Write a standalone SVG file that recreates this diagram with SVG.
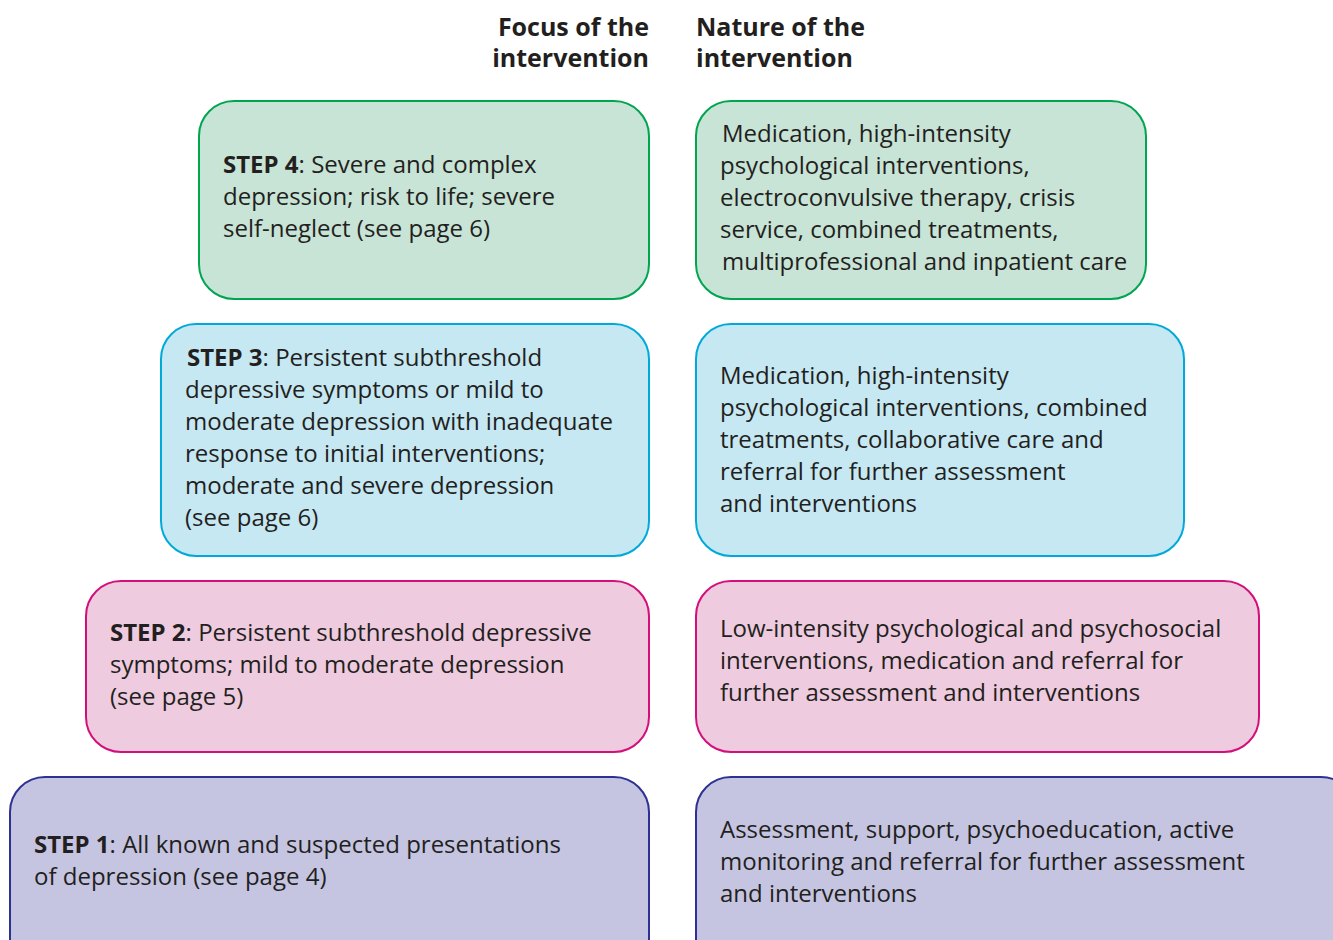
<svg xmlns="http://www.w3.org/2000/svg" width="1333" height="940" viewBox="0 0 1333 940">
  <style>
    text { font-family: "Open Sans", "Noto Sans", "Liberation Sans", sans-serif; font-size: 24px; fill: #231f20; }
    .hd { font-weight: bold; font-size: 25px; }
    .b { font-weight: bold; }
    .s4 { fill: #c8e4d6; stroke: #00a550; stroke-width: 2; }
    .s3 { fill: #c6e8f3; stroke: #00aad8; stroke-width: 2; }
    .s2 { fill: #eecbde; stroke: #d30f7c; stroke-width: 2; }
    .s1 { fill: #c5c5e2; stroke: #2e3192; stroke-width: 2; }
  </style>
  <rect width="1333" height="940" fill="#ffffff"/>

  <!-- column headings -->
  <g id="head-focus">
    <text class="hd" x="649" y="36" text-anchor="end">Focus of the</text>
    <text class="hd" x="649" y="67" text-anchor="end">intervention</text>
  </g>
  <g id="head-nature">
    <text class="hd" x="696" y="36">Nature of the</text>
    <text class="hd" x="696" y="67">intervention</text>
  </g>

  <!-- step 4 -->
  <g id="step4-focus">
    <rect class="s4" x="199" y="101" width="450" height="198" rx="35"/>
    <text x="223" y="173"><tspan class="b">STEP 4</tspan>: Severe and complex</text>
    <text x="223" y="205">depression; risk to life; severe</text>
    <text x="223" y="237">self-neglect (see page 6)</text>
  </g>
  <g id="step4-nature">
    <rect class="s4" x="696" y="101" width="450" height="198" rx="35"/>
    <text x="722" y="142">Medication, high-intensity</text>
    <text x="720" y="174">psychological interventions,</text>
    <text x="720" y="206">electroconvulsive therapy, crisis</text>
    <text x="720" y="238">service, combined treatments,</text>
    <text x="722" y="270">multiprofessional and inpatient care</text>
  </g>

  <!-- step 3 -->
  <g id="step3-focus">
    <rect class="s3" x="161" y="324" width="488" height="232" rx="35"/>
    <text x="187" y="366"><tspan class="b">STEP 3</tspan>: Persistent subthreshold</text>
    <text x="185" y="398">depressive symptoms or mild to</text>
    <text x="185" y="430">moderate depression with inadequate</text>
    <text x="185" y="462">response to initial interventions;</text>
    <text x="185" y="494">moderate and severe depression</text>
    <text x="185" y="526">(see page 6)</text>
  </g>
  <g id="step3-nature">
    <rect class="s3" x="696" y="324" width="488" height="232" rx="35"/>
    <text x="720" y="384">Medication, high-intensity</text>
    <text x="720" y="416">psychological interventions, combined</text>
    <text x="720" y="448">treatments, collaborative care and</text>
    <text x="720" y="480">referral for further assessment</text>
    <text x="720" y="512">and interventions</text>
  </g>

  <!-- step 2 -->
  <g id="step2-focus">
    <rect class="s2" x="86" y="581" width="563" height="171" rx="35"/>
    <text x="110" y="641"><tspan class="b">STEP 2</tspan>: Persistent subthreshold depressive</text>
    <text x="110" y="673">symptoms; mild to moderate depression</text>
    <text x="110" y="705">(see page 5)</text>
  </g>
  <g id="step2-nature">
    <rect class="s2" x="696" y="581" width="563" height="171" rx="35"/>
    <text x="720" y="637">Low-intensity psychological and psychosocial</text>
    <text x="720" y="669">interventions, medication and referral for</text>
    <text x="720" y="701">further assessment and interventions</text>
  </g>

  <!-- step 1 -->
  <g id="step1-focus">
    <rect class="s1" x="10" y="777" width="639" height="200" rx="35"/>
    <text x="34" y="853"><tspan class="b">STEP 1</tspan>: All known and suspected presentations</text>
    <text x="34" y="885">of depression (see page 4)</text>
  </g>
  <g id="step1-nature">
    <rect class="s1" x="696" y="777" width="660" height="200" rx="35"/>
    <text x="720" y="838">Assessment, support, psychoeducation, active</text>
    <text x="720" y="870">monitoring and referral for further assessment</text>
    <text x="720" y="902">and interventions</text>
  </g>

  <!-- no connectors are drawn between the steps -->
  <g id="connectors"/>
</svg>
